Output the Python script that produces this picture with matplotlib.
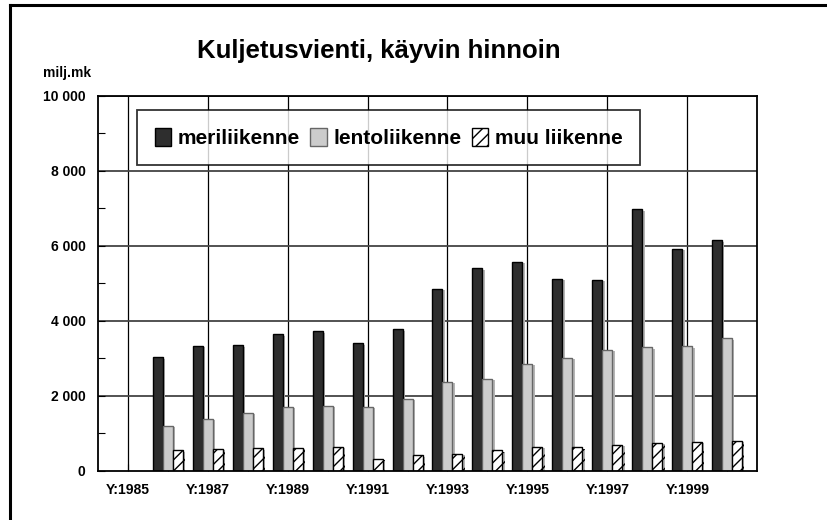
import numpy as np
import matplotlib
matplotlib.use("Agg")
import matplotlib.pyplot as plt
import matplotlib.patheffects as pe
from matplotlib.lines import Line2D
from matplotlib.patches import Patch
from matplotlib.ticker import FuncFormatter, MultipleLocator

plt.rcParams['font.family'] = ['Liberation Sans', 'DejaVu Sans']
plt.rcParams['font.weight'] = 'bold'
plt.rcParams['hatch.linewidth'] = 1.0

years = list(range(1985, 2001))
year_labels = [f"Y:{y}" if (y - 1985) % 2 == 0 else "" for y in years]
series_names = ["meriliikenne", "lentoliikenne", "muu liikenne"]
meri = [np.nan, 3030, 3330, 3350, 3640, 3720, 3400, 3770, 4860, 5400, 5570, 5120, 5090, 6980, 5930, 6150]
lento = [np.nan, 1200, 1380, 1550, 1700, 1740, 1700, 1920, 2370, 2460, 2850, 3020, 3220, 3290, 3320, 3530]
muu = [np.nan, 545, 580, 600, 610, 630, 320, 410, 450, 545, 635, 625, 695, 750, 770, 800]

fig = plt.figure(figsize=(8.28, 5.2), dpi=100)
ax = fig.add_axes([98/828, 1-470.7/520, 659/828, 374.7/520])

x = np.arange(len(years))
w = 0.25
styles = [
    dict(facecolor="#2e2e2e", edgecolor="black", linewidth=1.0),
    dict(facecolor="#cccccc", edgecolor="#666666", linewidth=1.0),
    dict(facecolor="white", edgecolor="black", linewidth=1.0, hatch="///"),
]
shadow = [pe.SimplePatchShadow(offset=(1.5, -1.0), shadow_rgbFace="#b5b5b5", alpha=1.0), pe.Normal()]
for i, (vals, st) in enumerate(zip([meri, lento, muu], styles)):
    bars = ax.bar(x + (i - 1) * w, vals, width=w, zorder=3, **st)
    for b in bars:
        b.set_path_effects(shadow)

ax.set_xlim(-0.74, 15.74)
ax.set_ylim(0, 10000)

# grid
for xv in x[::2]:
    ax.axvline(xv, color="black", lw=0.9, zorder=1)
for yv in range(2000, 10001, 2000):
    ax.axhline(yv, color="#444444", lw=1.3, zorder=1)

ax.set_xticks(x)
ax.set_xticklabels(year_labels, fontsize=10, fontweight="bold")
ax.tick_params(axis="x", direction="in", length=5, width=0.8, pad=9)
ax.yaxis.set_major_locator(MultipleLocator(2000))
ax.yaxis.set_minor_locator(MultipleLocator(1000))
ax.yaxis.set_major_formatter(FuncFormatter(lambda v, p: f"{int(v):,}".replace(",", " ")))
ax.tick_params(axis="y", which="both", direction="in", length=5, width=0.8, pad=9, labelsize=10)
for lab in ax.get_yticklabels():
    lab.set_fontweight("bold")
for s in ax.spines.values():
    s.set_linewidth(1.3)
    s.set_zorder(4)

handles = [Patch(**st) for st in styles]
leg = ax.legend(handles, series_names, loc="upper left", bbox_to_anchor=(0.059, 0.963),
                ncol=3, frameon=True, fancybox=False, shadow=False,
                borderpad=0.85, handlelength=0.8, handleheight=0.95, handletextpad=0.3,
                columnspacing=0.5, borderaxespad=0.0, prop={"weight": "bold", "size": 15})
leg.get_frame().set_edgecolor("black")
leg.get_frame().set_linewidth(1.3)
leg.set_zorder(5)

fig.text(378.5/828, 1-57.7/520, "Kuljetusvienti, käyvin hinnoin", fontsize=18.5,
         fontweight="bold", ha="center", va="baseline")
fig.text(43/828, 1-73/520, "milj.mk", fontsize=10, fontweight="bold", ha="left", va="center")

fig.add_artist(Line2D([10/828, 1.0], [1-5/520, 1-5/520], color="black", lw=2.2))
fig.add_artist(Line2D([10/828, 10/828], [0.0, 1-5/520], color="black", lw=2.2))

fig.savefig("out.png", dpi=100)
